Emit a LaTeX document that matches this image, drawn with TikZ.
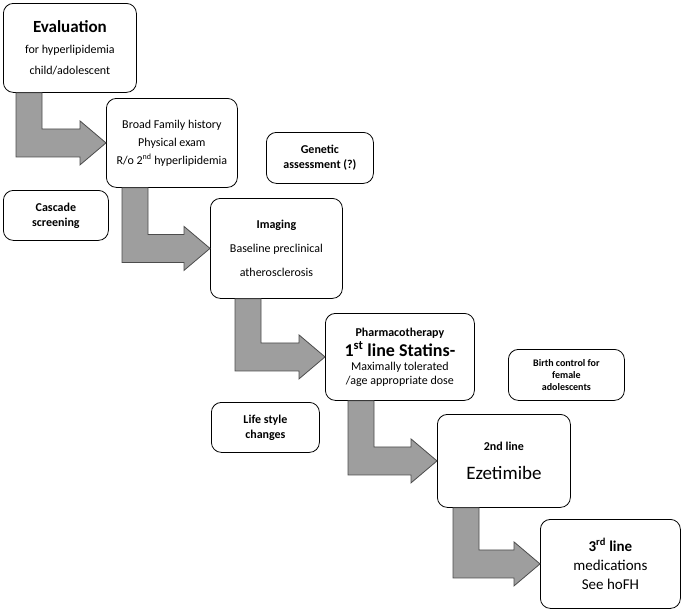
\documentclass[tikz,border=0pt]{standalone}
\usepackage{fontspec}
\setmainfont{Carlito}
\usetikzlibrary{calc}
\tikzset{
	box/.style={draw,thick,rounded corners=10pt,fill=white,align=center,
		anchor=north west,inner sep=2pt,font=\fontsize{12}{21}\selectfont},
	step arrow/.style={draw=black!70,fill=black!38,thick}
}
% L-shaped block arrow from below #1 into the west side of #2, stem offset #3
\newcommand{\lstep}[3]{%
	\draw[step arrow] let \p1=(#1.south west), \p2=(#2.west) in
		(\x1+#3pt,\y1) -- (\x1+#3pt+26pt,\y1) -- (\x1+#3pt+26pt,\y2+14pt)
		-- (\x2-26pt,\y2+14pt) -- (\x2-26pt,\y2+22pt) -- (\x2,\y2)
		-- (\x2-26pt,\y2-22pt) -- (\x2-26pt,\y2-14pt) -- (\x1+#3pt,\y2-14pt) -- cycle;}
\begin{document}
\begin{tikzpicture}[x=1pt,y=-1pt]
	\useasboundingbox (0,0) rectangle (685,611);
	% steps
	\node[box,minimum width=133,minimum height=89] (eval) at (3,3)
		{{\fontsize{17}{20}\selectfont\bfseries Evaluation}\\for hyperlipidemia\\child/adolescent};
	\node[box,minimum width=131,minimum height=89,font=\fontsize{12}{18}\selectfont] (hist) at (106,98)
		{Broad Family history\\Physical exam\\R/o 2\textsuperscript{nd} hyperlipidemia};
	\node[box,minimum width=132,minimum height=100,font=\fontsize{12}{24}\selectfont] (img) at (210,198)
		{\bfseries Imaging\\Baseline preclinical\\atherosclerosis};
	\node[box,minimum width=149,minimum height=87,font=\fontsize{12}{14}\selectfont] (pharm) at (325,313)
		{\bfseries Pharmacotherapy\\[3pt]{\fontsize{18}{20}\selectfont\bfseries 1\textsuperscript{st} line Statins-}\\
		Maximally tolerated\\/age appropriate dose};
	\node[box,minimum width=133,minimum height=93] (second) at (437,414)
		{\bfseries 2nd line\\[8pt]{\fontsize{19}{20}\selectfont Ezetimibe}};
	\node[box,minimum width=140,minimum height=89,font=\fontsize{15}{19}\selectfont] (third) at (540,519)
		{\bfseries 3\textsuperscript{rd} line\\medications\\See hoFH};
	% side notes
	\node[box,minimum width=107,minimum height=51,font=\fontsize{12}{15}\selectfont\bfseries] (gen) at (266,132)
		{Genetic\\assessment (?)};
	\node[box,minimum width=105,minimum height=50,font=\fontsize{12}{15}\selectfont\bfseries] (casc) at (3,190)
		{Cascade\\screening};
	\node[box,minimum width=116,minimum height=51,font=\fontsize{10}{12}\selectfont\bfseries] (birth) at (508,349)
		{Birth control for\\female\\adolescents};
	\node[box,minimum width=108,minimum height=50,font=\fontsize{12}{15}\selectfont\bfseries] (life) at (211,402)
		{Life style\\changes};
	% arrows
	\lstep{eval}{hist}{13}
	\lstep{hist}{img}{16}
	\lstep{img}{pharm}{25}
	\lstep{pharm}{second}{23}
	\lstep{second}{third}{16}
\end{tikzpicture}
\end{document}
